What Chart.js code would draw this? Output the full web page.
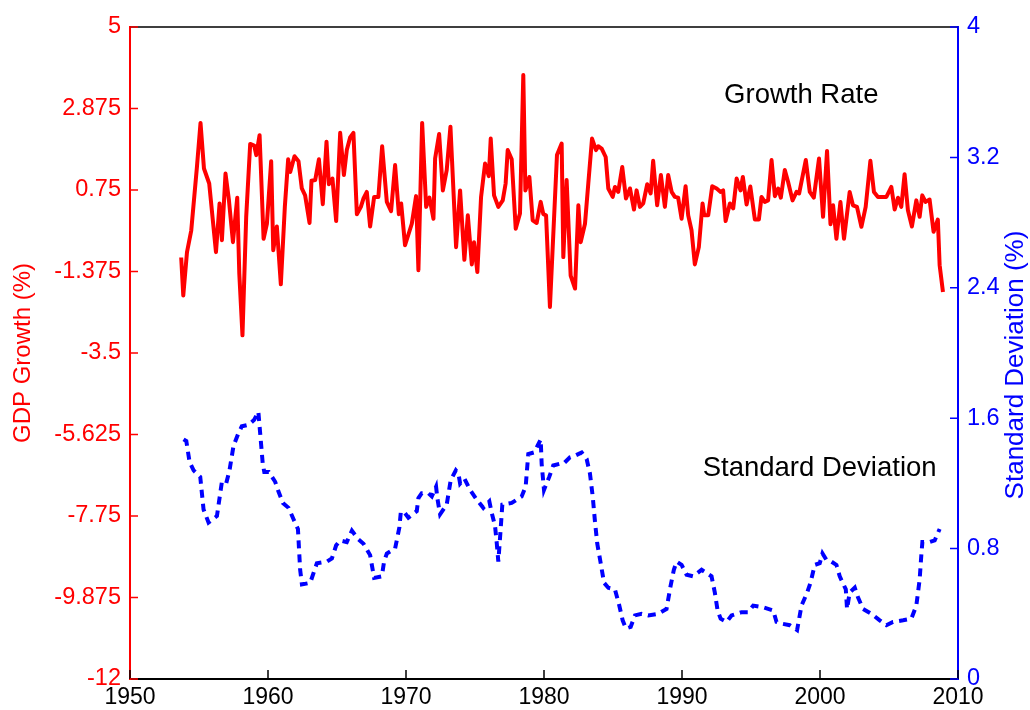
<!DOCTYPE html>
<html>
<head>
<meta charset="utf-8">
<script src="https://cdn.jsdelivr.net/npm/chart.js@4/dist/chart.umd.min.js"></script>
<style>
  body { margin: 0; background: #fff; }
  canvas { display: block; }
</style>
</head>
<body>
<canvas id="myChart" width="1030" height="710"></canvas>
<script>
// quarterly GDP growth (%), left axis
const gdpYears = [
  1953.71, 1953.86, 1954.13, 1954.44, 1954.85, 1955.11, 1955.36, 1955.74, 1956.23, 1956.49,
  1956.66, 1956.92, 1957.17, 1957.46, 1957.77, 1957.92, 1958.15, 1958.42, 1958.71, 1959.00,
  1959.15, 1959.39, 1959.68, 1959.92, 1960.23, 1960.38, 1960.64, 1960.93, 1961.22, 1961.46,
  1961.61, 1961.92, 1962.21, 1962.45, 1962.69, 1963.01, 1963.15, 1963.42, 1963.69, 1963.97,
  1964.24, 1964.41, 1964.67, 1964.94, 1965.23, 1965.50, 1965.71, 1965.95, 1966.19, 1966.44,
  1966.73, 1966.92, 1967.16, 1967.40, 1967.69, 1968.00, 1968.27, 1968.61, 1968.92, 1969.21,
  1969.48, 1969.65, 1969.93, 1970.42, 1970.73, 1970.90, 1971.17, 1971.46, 1971.70, 1971.99,
  1972.11, 1972.40, 1972.67, 1972.95, 1973.22, 1973.63, 1973.92, 1974.23, 1974.48, 1974.77,
  1974.93, 1975.17, 1975.44, 1975.73, 1976.00, 1976.14, 1976.38, 1976.69, 1977.01, 1977.22,
  1977.37, 1977.66, 1977.95, 1978.26, 1978.50, 1978.65, 1978.94, 1979.18, 1979.47, 1979.76,
  1979.95, 1980.15, 1980.43, 1980.94, 1981.28, 1981.40, 1981.64, 1981.93, 1982.25, 1982.49,
  1982.66, 1982.97, 1983.21, 1983.48, 1983.77, 1983.93, 1984.18, 1984.47, 1984.66, 1984.98,
  1985.14, 1985.38, 1985.67, 1985.94, 1986.23, 1986.52, 1986.71, 1986.95, 1987.19, 1987.48,
  1987.73, 1987.91, 1988.20, 1988.47, 1988.76, 1989.00, 1989.25, 1989.48, 1989.72, 1989.97,
  1990.26, 1990.45, 1990.69, 1990.93, 1991.22, 1991.49, 1991.61, 1991.90, 1992.19, 1992.51,
  1992.80, 1992.98, 1993.16, 1993.47, 1993.71, 1993.96, 1994.24, 1994.41, 1994.68, 1994.95,
  1995.28, 1995.57, 1995.76, 1996.00, 1996.24, 1996.49, 1996.73, 1996.97, 1997.16, 1997.45,
  1997.69, 1998.01, 1998.30, 1998.49, 1998.97, 1999.26, 1999.55, 1999.93, 2000.22, 2000.51,
  2000.76, 2000.95, 2001.19, 2001.48, 2001.74, 2002.15, 2002.39, 2002.68, 2003.00, 2003.31,
  2003.65, 2003.91, 2004.20, 2004.81, 2005.17, 2005.41, 2005.65, 2005.89, 2006.13, 2006.37,
  2006.66, 2006.98, 2007.22, 2007.41, 2007.65, 2007.94, 2008.23, 2008.54, 2008.67, 2008.91
];
const gdpGrowth = [
  -1.01, -2.00, -0.87, -0.30, 1.35, 2.50, 1.31, 0.92, -0.87, 0.40,
  -0.56, 1.18, 0.48, -0.61, 0.55, -1.43, -3.04, 0.05, 1.95, 1.91,
  1.66, 2.18, -0.52, -0.13, 1.50, -0.82, -0.20, -1.71, 0.31, 1.55,
  1.22, 1.63, 1.50, 0.79, 0.61, -0.11, 0.99, 1.01, 1.55, 0.38,
  2.01, 0.90, 1.05, -0.06, 2.24, 1.14, 1.79, 2.12, 2.24, 0.12,
  0.31, 0.53, 0.70, -0.20, 0.57, 0.57, 1.89, 0.44, 0.20, 1.40,
  0.12, 0.40, -0.69, -0.13, 0.59, -1.34, 2.50, 0.31, 0.55, 0.00,
  1.57, 2.21, 0.74, 1.27, 2.40, -0.74, 0.74, -1.07, 0.09, -1.19,
  -0.61, -1.39, 0.57, 1.44, 1.11, 2.09, 0.61, 0.31, 0.48, 0.92,
  1.79, 1.55, -0.26, 0.14, 3.75, 0.74, 1.09, -0.04, -0.11, 0.44,
  0.12, 0.09, -2.30, 1.66, 1.96, -1.00, 1.01, -1.48, -1.82, 0.35,
  -0.61, -0.13, 0.92, 2.09, 1.79, 1.89, 1.83, 1.61, 0.79, 0.57,
  0.83, 0.70, 1.35, 0.53, 0.79, 0.24, 0.74, 0.31, 0.40, 0.90,
  0.66, 1.51, 0.35, 1.14, 0.31, 1.14, 0.70, 0.57, 0.55, 0.00,
  0.85, 0.09, -0.30, -1.19, -0.74, 0.40, 0.09, 0.09, 0.85, 0.79,
  0.70, 0.74, -0.06, 0.40, 0.27, 1.05, 0.74, 1.09, 0.37, 0.84,
  -0.02, -0.02, 0.57, 0.44, 0.48, 1.53, 0.59, 0.79, 0.55, 1.27,
  0.96, 0.48, 0.70, 0.66, 1.53, 0.70, 0.55, 1.57, 0.05, 1.77,
  -0.14, 0.35, -0.52, 0.44, -0.52, 0.70, 0.35, 0.31, -0.21, 0.31,
  1.51, 0.70, 0.57, 0.57, 0.83, 0.24, 0.55, 0.31, 1.16, 0.22,
  -0.20, 0.48, 0.05, 0.61, 0.44, 0.50, -0.34, -0.02, -1.21, -1.91
];

// rolling standard deviation of growth (%), right axis
const sdYears = [
  1953.88, 1954.08, 1954.32, 1954.61, 1955.09, 1955.33, 1955.69, 1956.30, 1956.66, 1956.97,
  1957.21, 1957.50, 1957.82, 1958.10, 1958.60, 1959.00, 1959.30, 1959.62, 1959.73, 1960.06,
  1960.52, 1960.76, 1961.08, 1961.49, 1961.85, 1962.17, 1962.33, 1962.46, 1963.06, 1963.54,
  1964.27, 1964.63, 1964.94, 1965.23, 1965.71, 1966.08, 1966.51, 1966.92, 1967.40, 1967.69,
  1968.25, 1968.41, 1968.61, 1969.21, 1969.52, 1969.62, 1969.81, 1970.17, 1970.78, 1970.90,
  1971.14, 1971.62, 1971.87, 1972.18, 1972.27, 1972.47, 1972.95, 1973.24, 1973.61, 1973.80,
  1973.92, 1974.23, 1974.64, 1975.13, 1975.60, 1976.04, 1976.21, 1976.45, 1976.57, 1976.69,
  1976.86, 1976.98, 1977.66, 1978.38, 1978.67, 1978.86, 1979.28, 1979.47, 1979.76, 1979.83,
  1980.00, 1980.38, 1980.67, 1981.11, 1981.40, 1981.88, 1982.25, 1982.73, 1983.09, 1983.33,
  1983.53, 1983.70, 1983.86, 1984.11, 1984.35, 1984.66, 1985.14, 1985.43, 1985.70, 1985.94,
  1986.28, 1986.59, 1987.07, 1987.55, 1988.28, 1988.88, 1989.17, 1989.41, 1989.61, 1989.97,
  1990.33, 1990.81, 1991.42, 1992.14, 1992.38, 1992.58, 1992.80, 1993.23, 1993.59, 1994.32,
  1994.80, 1995.16, 1995.88, 1996.61, 1996.85, 1997.21, 1997.81, 1998.34, 1998.66, 1999.07,
  1999.31, 1999.62, 1999.98, 2000.18, 2000.47, 2000.83, 2001.19, 2001.43, 2001.87, 2001.96,
  2002.15, 2002.52, 2002.76, 2003.12, 2003.73, 2004.33, 2004.81, 2005.29, 2006.02, 2006.62,
  2006.98, 2007.22, 2007.35, 2007.42, 2007.95, 2008.31, 2008.67
];
const sdValues = [
  1.47, 1.46, 1.33, 1.28, 1.24, 1.04, 0.96, 1.00, 1.21, 1.20,
  1.28, 1.43, 1.50, 1.55, 1.56, 1.59, 1.64, 1.32, 1.27, 1.27,
  1.21, 1.15, 1.08, 1.05, 0.98, 0.92, 0.67, 0.58, 0.59, 0.71,
  0.72, 0.74, 0.82, 0.85, 0.84, 0.91, 0.86, 0.83, 0.76, 0.62,
  0.63, 0.72, 0.77, 0.80, 0.93, 1.02, 1.03, 0.99, 1.03, 1.11,
  1.14, 1.14, 1.12, 1.18, 1.11, 1.01, 1.07, 1.22, 1.28, 1.26,
  1.20, 1.23, 1.16, 1.10, 1.05, 1.09, 1.02, 0.94, 0.84, 0.72,
  0.92, 1.07, 1.08, 1.12, 1.18, 1.38, 1.39, 1.42, 1.47, 1.32,
  1.16, 1.24, 1.31, 1.32, 1.32, 1.36, 1.37, 1.39, 1.35, 1.26,
  1.12, 0.96, 0.83, 0.71, 0.59, 0.56, 0.55, 0.46, 0.36, 0.31,
  0.32, 0.39, 0.40, 0.39, 0.40, 0.43, 0.57, 0.67, 0.72, 0.70,
  0.64, 0.63, 0.67, 0.63, 0.53, 0.42, 0.37, 0.35, 0.39, 0.41,
  0.41, 0.45, 0.44, 0.42, 0.35, 0.34, 0.33, 0.30, 0.45, 0.53,
  0.59, 0.70, 0.71, 0.77, 0.73, 0.72, 0.70, 0.63, 0.55, 0.43,
  0.53, 0.56, 0.50, 0.43, 0.40, 0.36, 0.33, 0.35, 0.36, 0.37,
  0.45, 0.61, 0.77, 0.84, 0.84, 0.85, 0.92
];

const yearTicks = [1950, 1960, 1970, 1980, 1990, 2000, 2010];
const growthTicks = [-12, -9.875, -7.75, -5.625, -3.5, -1.375, 0.75, 2.875, 5];
const sdTicks = [0, 0.8, 1.6, 2.4, 3.2, 4];

const FONT = 'Arial, "Liberation Sans", sans-serif';
const RED = '#ff0000';
const BLUE = '#0000ff';

// inward tick marks, the top frame line, the right axis title and the two series labels
const framePlugin = {
  id: 'frame',
  afterDraw(chart) {
    const { ctx, chartArea: a, scales } = chart;
    ctx.save();

    ctx.lineWidth = 1.5;
    ctx.strokeStyle = '#000';
    ctx.beginPath();
    ctx.moveTo(a.left, a.top);
    ctx.lineTo(a.right, a.top);
    yearTicks.forEach(v => {
      const x = scales.x.getPixelForValue(v);
      ctx.moveTo(x, a.bottom);
      ctx.lineTo(x, a.bottom - 9);
    });
    ctx.stroke();

    ctx.strokeStyle = RED;
    ctx.beginPath();
    growthTicks.forEach(v => {
      const y = scales.y.getPixelForValue(v);
      ctx.moveTo(a.left, y);
      ctx.lineTo(a.left + 8, y);
    });
    ctx.stroke();

    ctx.strokeStyle = BLUE;
    ctx.beginPath();
    sdTicks.forEach(v => {
      const y = scales.y1.getPixelForValue(v);
      ctx.moveTo(a.right, y);
      ctx.lineTo(a.right - 8, y);
    });
    ctx.stroke();

    // right axis title reads bottom-to-top
    ctx.fillStyle = BLUE;
    ctx.font = '26px ' + FONT;
    ctx.textAlign = 'center';
    ctx.textBaseline = 'middle';
    ctx.translate(1016, (a.top + a.bottom) / 2 + 12);
    ctx.rotate(-Math.PI / 2);
    ctx.fillText('Standard Deviation (%)', 0, 0);
    ctx.restore();

    ctx.save();
    ctx.fillStyle = '#000';
    ctx.font = '27.5px ' + FONT;
    ctx.textAlign = 'left';
    ctx.textBaseline = 'middle';
    ctx.fillText('Growth Rate', scales.x.getPixelForValue(1993.05), scales.y.getPixelForValue(3.22));
    ctx.fillText('Standard Deviation', scales.x.getPixelForValue(1991.5), scales.y1.getPixelForValue(1.29));
    ctx.restore();
  }
};

const ctx = document.getElementById('myChart');

new Chart(ctx, {
  type: 'line',
  data: {
    datasets: [
      {
        label: 'Growth Rate',
        data: gdpYears.map((x, i) => ({ x: x, y: gdpGrowth[i] })),
        yAxisID: 'y',
        borderColor: RED,
        borderWidth: 4,
        borderJoinStyle: 'round',
        pointRadius: 0,
        tension: 0,
        fill: false
      },
      {
        label: 'Standard Deviation',
        data: sdYears.map((x, i) => ({ x: x, y: sdValues[i] })),
        yAxisID: 'y1',
        borderColor: BLUE,
        borderWidth: 4,
        borderDash: [8, 6],
        pointRadius: 0,
        tension: 0,
        fill: false
      }
    ]
  },
  options: {
    responsive: false,
    animation: false,
    layout: { padding: { top: 27, left: 0, right: 0, bottom: 0 } },
    plugins: {
      legend: { display: false },
      tooltip: { enabled: false }
    },
    scales: {
      x: {
        type: 'linear',
        position: 'bottom',
        min: 1950,
        max: 2010,
        afterBuildTicks: s => { s.ticks = yearTicks.map(v => ({ value: v })); },
        afterFit: s => { s.height = 31; },
        grid: { display: false, drawTicks: false },
        border: { display: true, color: '#000', width: 2 },
        ticks: {
          color: '#000',
          padding: 5,
          font: { family: FONT, size: 23 },
          callback: v => String(v)
        }
      },
      y: {
        type: 'linear',
        position: 'left',
        min: -12,
        max: 5,
        afterBuildTicks: s => { s.ticks = growthTicks.map(v => ({ value: v })); },
        afterFit: s => { s.width = 130; },
        grid: { display: false, drawTicks: false },
        border: { display: true, color: RED, width: 2 },
        ticks: {
          color: RED,
          padding: 9,
          font: { family: FONT, size: 23.5 },
          callback: v => String(v)
        },
        title: {
          display: true,
          text: 'GDP Growth (%)',
          color: RED,
          padding: { top: 9 },
          font: { family: FONT, size: 24 }
        }
      },
      y1: {
        type: 'linear',
        position: 'right',
        min: 0,
        max: 4,
        afterBuildTicks: s => { s.ticks = sdTicks.map(v => ({ value: v })); },
        afterFit: s => { s.width = 72; },
        grid: { display: false, drawTicks: false },
        border: { display: true, color: BLUE, width: 2 },
        ticks: {
          color: BLUE,
          padding: 9,
          font: { family: FONT, size: 23.5 },
          callback: v => String(v)
        }
      }
    }
  },
  plugins: [framePlugin]
});
</script>
</body>
</html>
